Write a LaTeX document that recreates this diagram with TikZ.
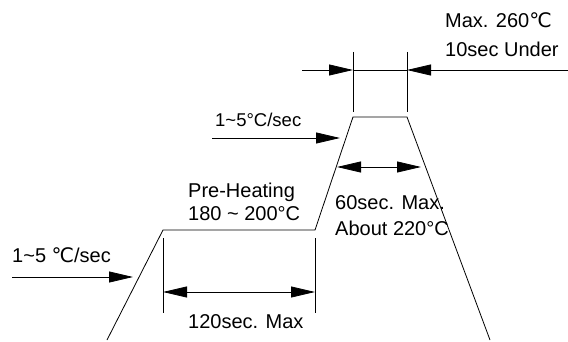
\documentclass[tikz,border=0pt]{standalone}
\usepackage{fontspec}
\setmainfont{Liberation Sans}
\newfontfamily\symfont{DejaVu Sans}
\usepackage{tikz}
\usetikzlibrary{arrows.meta}
\tikzset{
    profile/.style={line width=0.8pt},
    extline/.style={line width=0.8pt},
    dimarrow/.style={
        line width=0.8pt,
        -{Triangle[length=24pt,width=11pt]}
    },
    dimboth/.style={
        line width=0.8pt,
        {Triangle[length=24pt,width=11pt]}-{Triangle[length=24pt,width=11pt]}
    },
    lbl/.style={anchor=base west, inner sep=0pt, font=\fontsize{20}{24}\selectfont},
    lblsmall/.style={anchor=base west, inner sep=0pt, font=\fontsize{18.5}{22}\selectfont}
}
\newcommand{\celsius}{{\symfont ℃}}
\begin{document}
\begin{tikzpicture}[x=1pt,y=-1pt]
		\useasboundingbox (0,0) rectangle (568,342);

		% reflow profile
		\coordinate (start) at (107,340);
		\coordinate (preA) at (163,230);
		\coordinate (preB) at (315,230);
		\coordinate (peakA) at (353,117);
		\coordinate (peakB) at (407,117);
		\coordinate (stop) at (490,340);
		\draw[profile] (start) -- (preA) -- (preB) -- (peakA) -- (peakB) -- (stop);

		% pre-heating span
		\coordinate (extAtop) at (163,238);
		\coordinate (extAbot) at (163,313);
		\coordinate (extBtop) at (315,238);
		\coordinate (extBbot) at (315,313);
		\draw[extline] (extAtop) -- (extAbot);
		\draw[extline] (extBtop) -- (extBbot);
		\coordinate (preL) at (163,292);
		\coordinate (preR) at (315,292);
		\draw[dimboth] (preL) -- (preR);
		\node[lbl] (preTime) at (188,328) {120sec. Max};
		\node[lbl] (preName) at (188,197) {Pre-Heating};
		\node[lbl] (preTemp) at (188,220) {180 \char`\~{} 200°C};

		% first ramp
		\coordinate (rampAtail) at (12,277);
		\coordinate (rampAtip) at (133,277);
		\draw[dimarrow] (rampAtail) -- (rampAtip);
		\node[lbl] (rampA) at (12,262) {1\char`\~5 \celsius/sec};

		% second ramp
		\coordinate (rampBtail) at (212,138);
		\coordinate (rampBtip) at (340,138);
		\draw[dimarrow] (rampBtail) -- (rampBtip);
		\node[lblsmall] (rampB) at (215,127) {1\char`\~5°C/sec};

		% reflow span
		\coordinate (reflowL) at (337,167);
		\coordinate (reflowR) at (421,167);
		\draw[dimboth] (reflowL) -- (reflowR);
		\node[lbl] (reflowTime) at (335,210) {60sec. Max.};
		\node[lbl] (reflowTemp) at (335,235) {About 220°C};

		% peak span
		\coordinate (extCtop) at (353,52);
		\coordinate (extCbot) at (353,112);
		\coordinate (extDtop) at (407,52);
		\coordinate (extDbot) at (407,112);
		\draw[extline] (extCtop) -- (extCbot);
		\draw[extline] (extDtop) -- (extDbot);
		\coordinate (peakLtail) at (302,70);
		\coordinate (peakL) at (353,70);
		\coordinate (peakR) at (407,70);
		\coordinate (peakRtail) at (568,70);
		\draw[dimarrow] (peakLtail) -- (peakL);
		\draw[extline] (peakL) -- (peakR);
		\draw[dimarrow] (peakRtail) -- (peakR);
		\node[lbl] (peakTemp) at (445,28) {Max. 260\celsius};
		\node[lbl] (peakTime) at (445,57) {10sec Under};

	\end{tikzpicture}
\end{document}
